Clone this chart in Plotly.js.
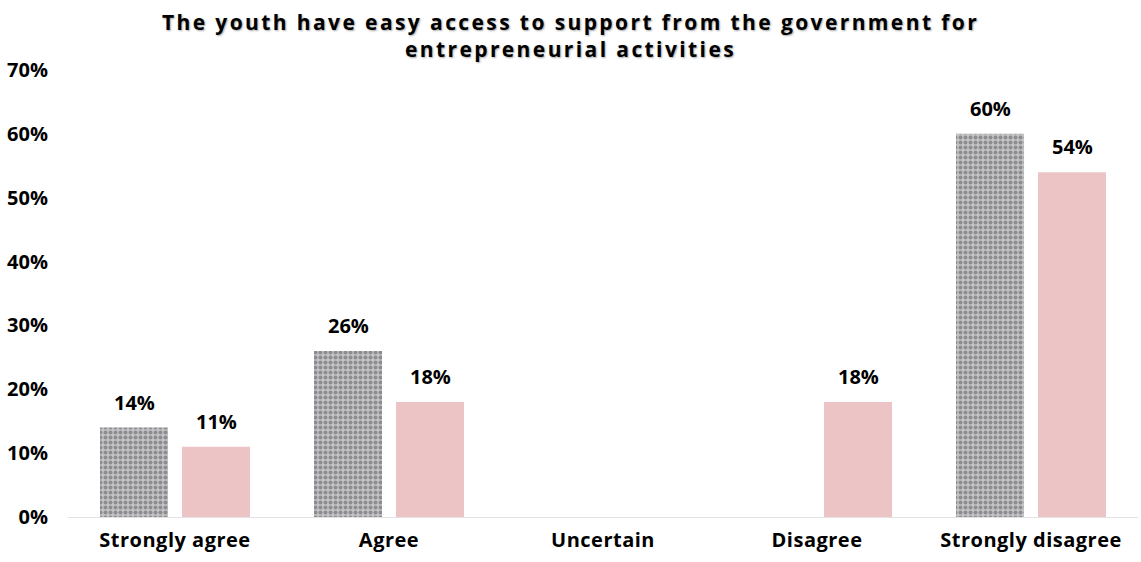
<!DOCTYPE html>
<html>
<head>
<meta charset="utf-8">
<script src="https://cdn.plot.ly/plotly-3.0.1.min.js"></script>
<style>
html,body{margin:0;padding:0;background:#fff;}
#chart{width:1141px;height:562px;}
.gtitle{letter-spacing:2.4px;}
.xtick text{letter-spacing:0.5px;}
</style>
</head>
<body>
<div id="chart"></div>
<script>
const categories = ["Strongly agree", "Agree", "Uncertain", "Disagree", "Strongly disagree"];
const seriesA = [0.14, 0.26, null, null, 0.60];
const seriesB = [0.11, 0.18, null, 0.18, 0.54];
const labelsA = ["14%", "26%", "", "", "60%"];
const labelsB = ["11%", "18%", "", "18%", "54%"];
const yTicks = [0, 0.1, 0.2, 0.3, 0.4, 0.5, 0.6, 0.7];
const yTickText = ["0%", "10%", "20%", "30%", "40%", "50%", "60%", "70%"];

const fontFam = "'Open Sans', sans-serif";
const tickFont = {family: fontFam, size: 20, color: "#000", weight: 700};
const dataFont = {family: fontFam, size: 20, color: "#000", weight: 700};

const traces = [
  {
    type: "bar", x: categories, y: seriesA, name: "A",
    marker: {color: "#bdbdc0", line: {width: 0},
      pattern: {shape: ".", fgcolor: "#56565b", bgcolor: "#c3c3c6", size: 5, solidity: 0.5, fillmode: "overlay"}}
  },
  {
    type: "bar", x: categories, y: seriesB, name: "B",
    marker: {color: "#edc4c5", line: {width: 0}}
  }
];

// data labels built from the arrays, placed above each bar via the axis scales
const annotations = [];
categories.forEach((c, i) => {
  if (seriesA[i] !== null) annotations.push({x: c, y: seriesA[i], xref: "x", yref: "y", text: labelsA[i],
    showarrow: false, yanchor: "bottom", xshift: -41, yshift: 10, font: dataFont});
  if (seriesB[i] !== null) annotations.push({x: c, y: seriesB[i], xref: "x", yref: "y", text: labelsB[i],
    showarrow: false, yanchor: "bottom", xshift: 41, yshift: 10, font: dataFont});
});

const layout = {
  width: 1141, height: 562,
  margin: {l: 68, r: 3, t: 70, b: 45},
  paper_bgcolor: "#fff", plot_bgcolor: "#fff",
  showlegend: false,
  barmode: "group", bargap: 0.234, bargroupgap: 0.17,
  annotations: annotations,
  title: {
    text: "The youth have easy access to support from the government for<br>entrepreneurial activities",
    x: 0.5, xanchor: "center", xref: "container", yref: "container", y: 1 - 30 / 562, yanchor: "middle",
    font: {family: fontFam, size: 21, color: "#000", weight: 700, shadow: "1px 1px 2px rgba(0,0,0,0.35)"}
  },
  xaxis: {
    showgrid: false, zeroline: false, showline: true, linecolor: "#e3e3e3", linewidth: 1,
    ticks: "", tickfont: tickFont, ticklabelstandoff: 5, automargin: false
  },
  yaxis: {
    range: [0, 0.7], tickvals: yTicks, ticktext: yTickText,
    showgrid: false, zeroline: false, showline: false, ticks: "",
    tickfont: tickFont, ticklabelstandoff: 19, automargin: false
  }
};

Plotly.newPlot("chart", traces, layout, {displayModeBar: false, staticPlot: true});
</script>
</body>
</html>
